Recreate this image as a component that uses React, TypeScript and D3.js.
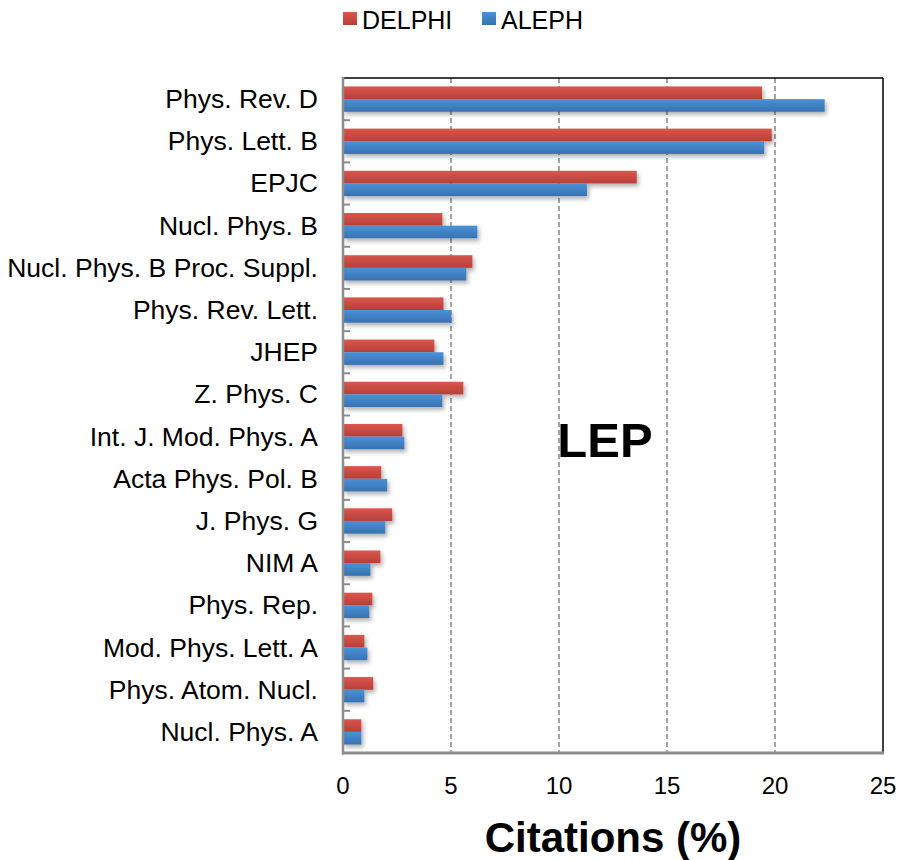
import React from "react";
import * as d3 from "d3";

const categories = [
  "Phys. Rev. D",
  "Phys. Lett. B",
  "EPJC",
  "Nucl. Phys. B",
  "Nucl. Phys. B Proc. Suppl.",
  "Phys. Rev. Lett.",
  "JHEP",
  "Z. Phys. C",
  "Int. J. Mod. Phys. A",
  "Acta Phys. Pol. B",
  "J. Phys. G",
  "NIM A",
  "Phys. Rep.",
  "Mod. Phys. Lett. A",
  "Phys. Atom. Nucl.",
  "Nucl. Phys. A",
];

const delphi = [19.4, 19.85, 13.6, 4.6, 5.99, 4.65, 4.23, 5.57, 2.75, 1.77, 2.28, 1.73, 1.36, 0.99, 1.4, 0.85];
const aleph = [22.3, 19.5, 11.3, 6.22, 5.71, 5.02, 4.65, 4.6, 2.84, 2.05, 1.96, 1.27, 1.22, 1.13, 0.99, 0.85];

const seriesNames = ["DELPHI", "ALEPH"];
const xTicks = [0, 5, 10, 15, 20, 25];
const gridTicks = [5, 10, 15, 20];

const W = 900;
const H = 860;
const left = 343;
const right = 883;
const top = 78;
const bottom = 753;
const FONT = "Liberation Sans, Arial, Helvetica, sans-serif";

export default function App() {
  const x = d3.scaleLinear().domain([0, 25]).range([left, right]);
  const y = d3.scaleBand<string>().domain(categories).range([top, bottom]).padding(0);
  const bw = y.bandwidth();
  const gh = bw * 0.6;
  const sub = d3
    .scaleBand<string>()
    .domain(seriesNames)
    .range([(bw - gh) / 2, (bw + gh) / 2])
    .padding(0);
  const values: Record<string, number[]> = { DELPHI: delphi, ALEPH: aleph };
  const fills: Record<string, string> = { DELPHI: "url(#gRed)", ALEPH: "url(#gBlue)" };

  return (
    <svg
      width={W}
      height={H}
      style={{ position: "absolute", left: 0, top: 0, background: "#fff" }}
      fontFamily={FONT}
    >
      <defs>
        <linearGradient id="gRed" x1="0" y1="0" x2="0" y2="1">
          <stop offset="0" stopColor="#dc564d" />
          <stop offset="1" stopColor="#b63f38" />
        </linearGradient>
        <linearGradient id="gBlue" x1="0" y1="0" x2="0" y2="1">
          <stop offset="0" stopColor="#4a92d8" />
          <stop offset="1" stopColor="#3871b0" />
        </linearGradient>
        <filter id="shadow" x="-10%" y="-30%" width="130%" height="190%">
          <feDropShadow dx="2" dy="3" stdDeviation="2.2" floodColor="#000" floodOpacity="0.3" />
        </filter>
      </defs>

      {/* legend */}
      <rect x={343} y={12} width={14} height={13} fill="url(#gRed)" />
      <text x={362} y={29} fontSize={25} fill="#000">DELPHI</text>
      <rect x={482} y={12} width={14} height={13} fill="url(#gBlue)" />
      <text x={501} y={29} fontSize={25} fill="#000">ALEPH</text>

      {/* gridlines */}
      {gridTicks.map((t) => (
        <line
          key={t}
          x1={x(t)}
          x2={x(t)}
          y1={top}
          y2={bottom}
          stroke="#8f8f8f"
          strokeWidth={1.6}
          strokeDasharray="5,3"
        />
      ))}

      {/* bars */}
      <g filter="url(#shadow)">
        {categories.map((c, i) =>
          seriesNames.map((s) => (
            <rect
              key={c + s}
              x={x(0)}
              y={(y(c) as number) + (sub(s) as number)}
              width={x(values[s][i]) - x(0)}
              height={sub.bandwidth()}
              fill={fills[s]}
            />
          ))
        )}
      </g>

      {/* top and right border */}
      <line x1={left} x2={right} y1={top} y2={top} stroke="#000" strokeWidth={1.5} />
      <line x1={right} x2={right} y1={top} y2={bottom} stroke="#000" strokeWidth={1.5} />

      {/* left axis with ticks */}
      {categories.slice(1).map((c) => (
        <line
          key={"t" + c}
          x1={left}
          x2={left + 7}
          y1={y(c) as number}
          y2={y(c) as number}
          stroke="#8c8c8c"
          strokeWidth={2}
        />
      ))}
      <line x1={left} x2={left} y1={top - 1} y2={bottom + 1.5} stroke="#8c8c8c" strokeWidth={2.5} />
      <line x1={left - 1} x2={right + 1} y1={bottom} y2={bottom} stroke="#8c8c8c" strokeWidth={3} />

      {/* category labels */}
      {categories.map((c) => (
        <text
          key={"l" + c}
          x={318}
          y={(y(c) as number) + bw / 2 + 2}
          textAnchor="end"
          dominantBaseline="middle"
          fontSize={26.5}
          fill="#000"
        >
          {c}
        </text>
      ))}

      {/* x tick labels */}
      {xTicks.map((t) => (
        <text key={"x" + t} x={x(t)} y={794} textAnchor="middle" fontSize={24} fill="#000">
          {t}
        </text>
      ))}

      {/* axis title */}
      <text x={613} y={852} textAnchor="middle" fontSize={42} fontWeight="bold" fill="#000">
        Citations (%)
      </text>

      {/* LEP annotation */}
      <text x={605} y={457} textAnchor="middle" fontSize={49} fontWeight="bold" fill="#000">
        LEP
      </text>
    </svg>
  );
}
